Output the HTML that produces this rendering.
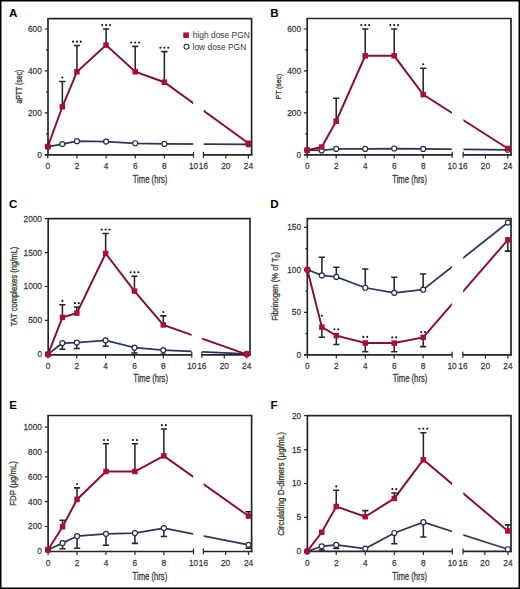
<!DOCTYPE html>
<html><head><meta charset="utf-8">
<style>
html,body{margin:0;padding:0;background:#fff;}
body{width:520px;height:589px;overflow:hidden;}
svg{display:block;}
text{font-family:"Liberation Sans", sans-serif;}
.t{font-size:9.9px;fill:#3a3a3a;stroke:#3a3a3a;stroke-width:0.25px;}
.xt{font-size:10.8px;fill:#3a3a3a;stroke:#3a3a3a;stroke-width:0.3px;}
.yt{fill:#3a3a3a;stroke:#3a3a3a;stroke-width:0.3px;}
.lg{font-size:8.4px;fill:#3a3a3a;}
.L{font-size:11.6px;font-weight:bold;fill:#000;}
</style></head>
<body>
<svg width="520" height="589" viewBox="0 0 520 589">
<rect x="0" y="0" width="520" height="589" fill="#fff"/>
<polyline points="47.8,146.62 62.37,144.11 76.94,141.17 106.08,141.59 135.22,143.27 164.36,143.9 248.4,144.31" fill="none" stroke="#27395a" stroke-width="1.75" stroke-linejoin="miter"/>
<polyline points="47.8,146.62 62.37,106.78 76.94,71.76 106.08,45.13 135.22,71.76 164.36,82.24 248.4,143.27" fill="none" stroke="#870e30" stroke-width="1.95" stroke-linejoin="miter"/>
<rect x="193.2" y="19.6" width="10.5" height="134.2" fill="#fff"/>
<path d="M48 154.8V18.6H251.6V155.6" fill="none" stroke="#262626" stroke-width="1.7"/>
<path d="M44.7 154.8H193.5M203.4 154.8H252.4" stroke="#262626" stroke-width="1.7" fill="none"/>
<path d="M193.5 151.8V157.8M203.4 151.8V157.8" stroke="#262626" stroke-width="1.2" fill="none"/>
<path d="M47.8 154.8V158.4M76.94 154.8V158.4M106.08 154.8V158.4M135.22 154.8V158.4M164.36 154.8V158.4M225.8 154.8V158.4M248.4 154.8V158.4" stroke="#262626" stroke-width="1.2" fill="none"/>
<path d="M44.7 112.86H48M44.7 70.92H48M44.7 28.98H48M46.1 133.83H48M46.1 91.89H48M46.1 49.95H48" stroke="#262626" stroke-width="1.2" fill="none"/>
<path d="M62.37 106.78V81.41M59.27 81.41H65.47" stroke="#262626" stroke-width="1.55" fill="none"/>
<path d="M76.94 71.76V45.55M73.84 45.55H80.04" stroke="#262626" stroke-width="1.55" fill="none"/>
<path d="M106.08 45.13V28.98M102.98 28.98H109.18" stroke="#262626" stroke-width="1.55" fill="none"/>
<path d="M135.22 71.76V46.39M132.12 46.39H138.32" stroke="#262626" stroke-width="1.55" fill="none"/>
<path d="M164.36 82.24V51.63M161.26 51.63H167.46" stroke="#262626" stroke-width="1.55" fill="none"/>
<circle cx="47.8" cy="146.62" r="2.5" fill="#fff" stroke="#252d42" stroke-width="1.2"/>
<circle cx="62.37" cy="144.11" r="2.5" fill="#fff" stroke="#252d42" stroke-width="1.2"/>
<circle cx="76.94" cy="141.17" r="2.5" fill="#fff" stroke="#252d42" stroke-width="1.2"/>
<circle cx="106.08" cy="141.59" r="2.5" fill="#fff" stroke="#252d42" stroke-width="1.2"/>
<circle cx="135.22" cy="143.27" r="2.5" fill="#fff" stroke="#252d42" stroke-width="1.2"/>
<circle cx="164.36" cy="143.9" r="2.5" fill="#fff" stroke="#252d42" stroke-width="1.2"/>
<circle cx="248.4" cy="144.31" r="2.5" fill="#fff" stroke="#252d42" stroke-width="1.2"/>
<rect x="45.05" y="143.87" width="5.5" height="5.5" fill="#ad0d33"/>
<rect x="59.62" y="104.03" width="5.5" height="5.5" fill="#ad0d33"/>
<rect x="74.19" y="69.01" width="5.5" height="5.5" fill="#ad0d33"/>
<rect x="103.33" y="42.38" width="5.5" height="5.5" fill="#ad0d33"/>
<rect x="132.47" y="69.01" width="5.5" height="5.5" fill="#ad0d33"/>
<rect x="161.61" y="79.49" width="5.5" height="5.5" fill="#ad0d33"/>
<rect x="245.65" y="140.52" width="5.5" height="5.5" fill="#ad0d33"/>
<circle cx="62.37" cy="77.51" r="1.05" fill="#151515"/>
<circle cx="73.04" cy="41.65" r="1.05" fill="#151515"/>
<circle cx="76.94" cy="41.65" r="1.05" fill="#151515"/>
<circle cx="80.84" cy="41.65" r="1.05" fill="#151515"/>
<circle cx="102.18" cy="25.08" r="1.05" fill="#151515"/>
<circle cx="106.08" cy="25.08" r="1.05" fill="#151515"/>
<circle cx="109.98" cy="25.08" r="1.05" fill="#151515"/>
<circle cx="131.32" cy="42.49" r="1.05" fill="#151515"/>
<circle cx="135.22" cy="42.49" r="1.05" fill="#151515"/>
<circle cx="139.12" cy="42.49" r="1.05" fill="#151515"/>
<circle cx="160.46" cy="47.73" r="1.05" fill="#151515"/>
<circle cx="164.36" cy="47.73" r="1.05" fill="#151515"/>
<circle cx="168.26" cy="47.73" r="1.05" fill="#151515"/>
<text transform="translate(41.8 157.7) scale(0.84 1)" text-anchor="end" class="t">0</text>
<text transform="translate(41.8 115.76) scale(0.84 1)" text-anchor="end" class="t">200</text>
<text transform="translate(41.8 73.82) scale(0.84 1)" text-anchor="end" class="t">400</text>
<text transform="translate(41.8 31.88) scale(0.84 1)" text-anchor="end" class="t">600</text>
<text transform="translate(47.8 169.1) scale(0.84 1)" text-anchor="middle" class="t">0</text>
<text transform="translate(76.94 169.1) scale(0.84 1)" text-anchor="middle" class="t">2</text>
<text transform="translate(106.08 169.1) scale(0.84 1)" text-anchor="middle" class="t">4</text>
<text transform="translate(135.22 169.1) scale(0.84 1)" text-anchor="middle" class="t">6</text>
<text transform="translate(164.36 169.1) scale(0.84 1)" text-anchor="middle" class="t">8</text>
<text transform="translate(193.5 169.1) scale(0.84 1)" text-anchor="middle" class="t">10</text>
<text transform="translate(203.4 169.1) scale(0.84 1)" text-anchor="middle" class="t">16</text>
<text transform="translate(225.8 169.1) scale(0.84 1)" text-anchor="middle" class="t">20</text>
<text transform="translate(248.4 169.1) scale(0.84 1)" text-anchor="middle" class="t">24</text>
<text x="150.05" y="182.6" text-anchor="middle" class="xt" textLength="34.7" lengthAdjust="spacingAndGlyphs">Time (hrs)</text>
<text transform="translate(21.5 86.6) rotate(-90)" text-anchor="middle" class="yt" style="font-size:8.2px" textLength="34" lengthAdjust="spacingAndGlyphs">aPTT (sec)</text>
<text x="8.9" y="16.8" class="L">A</text>
<polyline points="307.2,150.19 321.7,150.4 336.2,148.93 365.2,148.93 394.2,148.51 423.2,148.93 507.8,149.77" fill="none" stroke="#27395a" stroke-width="1.75" stroke-linejoin="miter"/>
<polyline points="307.2,150.19 321.7,147.04 336.2,121.25 365.2,55.82 394.2,55.82 423.2,94.62 507.8,148.51" fill="none" stroke="#870e30" stroke-width="1.95" stroke-linejoin="miter"/>
<rect x="451.9" y="19.5" width="11.5" height="134.3" fill="#fff"/>
<path d="M307.2 154.8V18.5H511V155.6" fill="none" stroke="#262626" stroke-width="1.7"/>
<path d="M303.9 154.8H452.2M463.1 154.8H511.8" stroke="#262626" stroke-width="1.7" fill="none"/>
<path d="M452.2 151.8V157.8M463.1 151.8V157.8" stroke="#262626" stroke-width="1.2" fill="none"/>
<path d="M307.2 154.8V158.4M336.2 154.8V158.4M365.2 154.8V158.4M394.2 154.8V158.4M423.2 154.8V158.4M485.4 154.8V158.4M507.8 154.8V158.4" stroke="#262626" stroke-width="1.2" fill="none"/>
<path d="M303.9 112.86H307.2M303.9 70.92H307.2M303.9 28.98H307.2M305.3 133.83H307.2M305.3 91.89H307.2M305.3 49.95H307.2" stroke="#262626" stroke-width="1.2" fill="none"/>
<path d="M336.2 121.25V98.18M333.1 98.18H339.3" stroke="#262626" stroke-width="1.55" fill="none"/>
<path d="M365.2 55.82V28.98M362.1 28.98H368.3" stroke="#262626" stroke-width="1.55" fill="none"/>
<path d="M394.2 55.82V28.98M391.1 28.98H397.3" stroke="#262626" stroke-width="1.55" fill="none"/>
<path d="M423.2 94.62V68.19M420.1 68.19H426.3" stroke="#262626" stroke-width="1.55" fill="none"/>
<circle cx="307.2" cy="150.19" r="2.5" fill="#fff" stroke="#252d42" stroke-width="1.2"/>
<circle cx="321.7" cy="150.4" r="2.5" fill="#fff" stroke="#252d42" stroke-width="1.2"/>
<circle cx="336.2" cy="148.93" r="2.5" fill="#fff" stroke="#252d42" stroke-width="1.2"/>
<circle cx="365.2" cy="148.93" r="2.5" fill="#fff" stroke="#252d42" stroke-width="1.2"/>
<circle cx="394.2" cy="148.51" r="2.5" fill="#fff" stroke="#252d42" stroke-width="1.2"/>
<circle cx="423.2" cy="148.93" r="2.5" fill="#fff" stroke="#252d42" stroke-width="1.2"/>
<circle cx="507.8" cy="149.77" r="2.5" fill="#fff" stroke="#252d42" stroke-width="1.2"/>
<rect x="304.45" y="147.44" width="5.5" height="5.5" fill="#ad0d33"/>
<rect x="318.95" y="144.29" width="5.5" height="5.5" fill="#ad0d33"/>
<rect x="333.45" y="118.5" width="5.5" height="5.5" fill="#ad0d33"/>
<rect x="362.45" y="53.07" width="5.5" height="5.5" fill="#ad0d33"/>
<rect x="391.45" y="53.07" width="5.5" height="5.5" fill="#ad0d33"/>
<rect x="420.45" y="91.87" width="5.5" height="5.5" fill="#ad0d33"/>
<rect x="505.05" y="145.76" width="5.5" height="5.5" fill="#ad0d33"/>
<circle cx="361.3" cy="25.08" r="1.05" fill="#151515"/>
<circle cx="365.2" cy="25.08" r="1.05" fill="#151515"/>
<circle cx="369.1" cy="25.08" r="1.05" fill="#151515"/>
<circle cx="390.3" cy="25.08" r="1.05" fill="#151515"/>
<circle cx="394.2" cy="25.08" r="1.05" fill="#151515"/>
<circle cx="398.1" cy="25.08" r="1.05" fill="#151515"/>
<circle cx="423.2" cy="64.29" r="1.05" fill="#151515"/>
<text transform="translate(301 157.7) scale(0.84 1)" text-anchor="end" class="t">0</text>
<text transform="translate(301 115.76) scale(0.84 1)" text-anchor="end" class="t">200</text>
<text transform="translate(301 73.82) scale(0.84 1)" text-anchor="end" class="t">400</text>
<text transform="translate(301 31.88) scale(0.84 1)" text-anchor="end" class="t">600</text>
<text transform="translate(307.2 169.1) scale(0.84 1)" text-anchor="middle" class="t">0</text>
<text transform="translate(336.2 169.1) scale(0.84 1)" text-anchor="middle" class="t">2</text>
<text transform="translate(365.2 169.1) scale(0.84 1)" text-anchor="middle" class="t">4</text>
<text transform="translate(394.2 169.1) scale(0.84 1)" text-anchor="middle" class="t">6</text>
<text transform="translate(423.2 169.1) scale(0.84 1)" text-anchor="middle" class="t">8</text>
<text transform="translate(452.2 169.1) scale(0.84 1)" text-anchor="middle" class="t">10</text>
<text transform="translate(463.1 169.1) scale(0.84 1)" text-anchor="middle" class="t">16</text>
<text transform="translate(485.4 169.1) scale(0.84 1)" text-anchor="middle" class="t">20</text>
<text transform="translate(507.8 169.1) scale(0.84 1)" text-anchor="middle" class="t">24</text>
<text x="409.6" y="182.6" text-anchor="middle" class="xt" textLength="34.7" lengthAdjust="spacingAndGlyphs">Time (hrs)</text>
<text transform="translate(280.5 86.6) rotate(-90)" text-anchor="middle" class="yt" style="font-size:7.9px" textLength="25.6" lengthAdjust="spacingAndGlyphs">PT (sec)</text>
<text x="270.3" y="16.6" class="L">B</text>
<polyline points="48,354.3 62.41,343.11 76.82,342.57 105.64,340.33 134.46,347.72 163.28,350.03 246.7,353.96" fill="none" stroke="#27395a" stroke-width="1.75" stroke-linejoin="miter"/>
<polyline points="48,354.3 62.41,317.42 76.82,313.08 105.64,253.48 134.46,291.11 163.28,324.87 246.7,354.3" fill="none" stroke="#870e30" stroke-width="1.95" stroke-linejoin="miter"/>
<rect x="191.5" y="219.65" width="10.6" height="134.15" fill="#fff"/>
<path d="M48.2 354.8V218.65H250V355.6" fill="none" stroke="#262626" stroke-width="1.7"/>
<path d="M44.9 354.8H191.8M201.8 354.8H250.8" stroke="#262626" stroke-width="1.7" fill="none"/>
<path d="M191.8 351.8V357.8M201.8 351.8V357.8" stroke="#262626" stroke-width="1.2" fill="none"/>
<path d="M48 354.8V358.4M76.82 354.8V358.4M105.64 354.8V358.4M134.46 354.8V358.4M163.28 354.8V358.4M224.3 354.8V358.4M246.7 354.8V358.4" stroke="#262626" stroke-width="1.2" fill="none"/>
<path d="M44.9 320.4H48.2M44.9 286.5H48.2M44.9 252.6H48.2M44.9 218.7H48.2" stroke="#262626" stroke-width="1.2" fill="none"/>
<path d="M62.41 343.11V349.28M59.31 349.28H65.51" stroke="#262626" stroke-width="1.55" fill="none"/>
<path d="M76.82 342.57V348.54M73.72 348.54H79.92" stroke="#262626" stroke-width="1.55" fill="none"/>
<path d="M105.64 340.33V346.23M102.54 346.23H108.74" stroke="#262626" stroke-width="1.55" fill="none"/>
<path d="M134.46 347.72V352.94M131.36 352.94H137.56" stroke="#262626" stroke-width="1.55" fill="none"/>
<path d="M163.28 350.03V354.3M160.18 354.3H166.38" stroke="#262626" stroke-width="1.55" fill="none"/>
<path d="M62.41 317.42V304.81M59.31 304.81H65.51" stroke="#262626" stroke-width="1.55" fill="none"/>
<path d="M76.82 313.08V307.04M73.72 307.04H79.92" stroke="#262626" stroke-width="1.55" fill="none"/>
<path d="M105.64 253.48V233.41M102.54 233.41H108.74" stroke="#262626" stroke-width="1.55" fill="none"/>
<path d="M134.46 291.11V276.19M131.36 276.19H137.56" stroke="#262626" stroke-width="1.55" fill="none"/>
<path d="M163.28 324.87V315.86M160.18 315.86H166.38" stroke="#262626" stroke-width="1.55" fill="none"/>
<circle cx="48" cy="354.3" r="2.5" fill="#fff" stroke="#252d42" stroke-width="1.2"/>
<circle cx="62.41" cy="343.11" r="2.5" fill="#fff" stroke="#252d42" stroke-width="1.2"/>
<circle cx="76.82" cy="342.57" r="2.5" fill="#fff" stroke="#252d42" stroke-width="1.2"/>
<circle cx="105.64" cy="340.33" r="2.5" fill="#fff" stroke="#252d42" stroke-width="1.2"/>
<circle cx="134.46" cy="347.72" r="2.5" fill="#fff" stroke="#252d42" stroke-width="1.2"/>
<circle cx="163.28" cy="350.03" r="2.5" fill="#fff" stroke="#252d42" stroke-width="1.2"/>
<circle cx="246.7" cy="353.96" r="2.5" fill="#fff" stroke="#252d42" stroke-width="1.2"/>
<rect x="45.25" y="351.55" width="5.5" height="5.5" fill="#ad0d33"/>
<rect x="59.66" y="314.67" width="5.5" height="5.5" fill="#ad0d33"/>
<rect x="74.07" y="310.33" width="5.5" height="5.5" fill="#ad0d33"/>
<rect x="102.89" y="250.73" width="5.5" height="5.5" fill="#ad0d33"/>
<rect x="131.71" y="288.36" width="5.5" height="5.5" fill="#ad0d33"/>
<rect x="160.53" y="322.12" width="5.5" height="5.5" fill="#ad0d33"/>
<circle cx="246.7" cy="354.3" r="3.2" fill="#ad0d33"/>
<circle cx="62.41" cy="300.91" r="1.05" fill="#151515"/>
<circle cx="74.87" cy="303.14" r="1.05" fill="#151515"/>
<circle cx="78.77" cy="303.14" r="1.05" fill="#151515"/>
<circle cx="101.74" cy="229.51" r="1.05" fill="#151515"/>
<circle cx="105.64" cy="229.51" r="1.05" fill="#151515"/>
<circle cx="109.54" cy="229.51" r="1.05" fill="#151515"/>
<circle cx="130.56" cy="272.29" r="1.05" fill="#151515"/>
<circle cx="134.46" cy="272.29" r="1.05" fill="#151515"/>
<circle cx="138.36" cy="272.29" r="1.05" fill="#151515"/>
<circle cx="163.28" cy="311.96" r="1.05" fill="#151515"/>
<text transform="translate(42 357.2) scale(0.84 1)" text-anchor="end" class="t">0</text>
<text transform="translate(42 323.3) scale(0.84 1)" text-anchor="end" class="t">500</text>
<text transform="translate(42 289.4) scale(0.84 1)" text-anchor="end" class="t">1000</text>
<text transform="translate(42 255.5) scale(0.84 1)" text-anchor="end" class="t">1500</text>
<text transform="translate(42 221.6) scale(0.84 1)" text-anchor="end" class="t">2000</text>
<text transform="translate(48 369.1) scale(0.84 1)" text-anchor="middle" class="t">0</text>
<text transform="translate(76.82 369.1) scale(0.84 1)" text-anchor="middle" class="t">2</text>
<text transform="translate(105.64 369.1) scale(0.84 1)" text-anchor="middle" class="t">4</text>
<text transform="translate(134.46 369.1) scale(0.84 1)" text-anchor="middle" class="t">6</text>
<text transform="translate(163.28 369.1) scale(0.84 1)" text-anchor="middle" class="t">8</text>
<text transform="translate(191.8 369.1) scale(0.84 1)" text-anchor="middle" class="t">10</text>
<text transform="translate(201.8 369.1) scale(0.84 1)" text-anchor="middle" class="t">16</text>
<text transform="translate(224.3 369.1) scale(0.84 1)" text-anchor="middle" class="t">20</text>
<text transform="translate(246.7 369.1) scale(0.84 1)" text-anchor="middle" class="t">24</text>
<text x="150.6" y="382" text-anchor="middle" class="xt" textLength="34.7" lengthAdjust="spacingAndGlyphs">Time (hrs)</text>
<text transform="translate(16.6 286.55) rotate(-90)" text-anchor="middle" class="yt" style="font-size:8.2px" textLength="79.9" lengthAdjust="spacingAndGlyphs">TAT complexes (ng/mL)</text>
<text x="8.9" y="208.1" class="L">C</text>
<polyline points="307.4,269.8 321.87,275.41 336.34,276.94 365.28,287.74 394.22,292.84 423.16,289.69 507.9,222.54" fill="none" stroke="#27395a" stroke-width="1.75" stroke-linejoin="miter"/>
<polyline points="307.4,269.8 321.87,327.18 336.34,335.59 365.28,342.99 394.22,343.07 423.16,337.38 507.9,239.8" fill="none" stroke="#870e30" stroke-width="1.95" stroke-linejoin="miter"/>
<rect x="451.8" y="219.6" width="11.4" height="134.2" fill="#fff"/>
<path d="M307.3 354.8V218.6H511V355.6" fill="none" stroke="#262626" stroke-width="1.7"/>
<path d="M304 354.8H452.1M462.9 354.8H511.8" stroke="#262626" stroke-width="1.7" fill="none"/>
<path d="M452.1 351.8V357.8M462.9 351.8V357.8" stroke="#262626" stroke-width="1.2" fill="none"/>
<path d="M307.4 354.8V358.4M336.34 354.8V358.4M365.28 354.8V358.4M394.22 354.8V358.4M423.16 354.8V358.4M485.4 354.8V358.4M507.9 354.8V358.4" stroke="#262626" stroke-width="1.2" fill="none"/>
<path d="M304 312.3H307.3M304 269.8H307.3M304 227.3H307.3M305.4 333.55H307.3M305.4 291.05H307.3M305.4 248.55H307.3" stroke="#262626" stroke-width="1.2" fill="none"/>
<path d="M321.87 275.41V257.22M318.77 257.22H324.97" stroke="#262626" stroke-width="1.55" fill="none"/>
<path d="M336.34 276.94V267.25M333.24 267.25H339.44" stroke="#262626" stroke-width="1.55" fill="none"/>
<path d="M365.28 287.74V269.04M362.18 269.04H368.38" stroke="#262626" stroke-width="1.55" fill="none"/>
<path d="M394.22 292.84V277.2M391.12 277.2H397.32" stroke="#262626" stroke-width="1.55" fill="none"/>
<path d="M423.16 289.69V274.05M420.06 274.05H426.26" stroke="#262626" stroke-width="1.55" fill="none"/>
<path d="M321.87 327.18V337.21M318.77 337.21H324.97" stroke="#262626" stroke-width="1.55" fill="none"/>
<path d="M336.34 335.59V344.43M333.24 344.43H339.44" stroke="#262626" stroke-width="1.55" fill="none"/>
<path d="M365.28 342.99V351.82M362.18 351.82H368.38" stroke="#262626" stroke-width="1.55" fill="none"/>
<path d="M394.22 343.07V351.82M391.12 351.82H397.32" stroke="#262626" stroke-width="1.55" fill="none"/>
<path d="M423.16 337.38V346.64M420.06 346.64H426.26" stroke="#262626" stroke-width="1.55" fill="none"/>
<path d="M507.9 239.8V251.1M504.8 251.1H511" stroke="#262626" stroke-width="1.55" fill="none"/>
<circle cx="307.4" cy="269.8" r="2.5" fill="#fff" stroke="#252d42" stroke-width="1.2"/>
<circle cx="321.87" cy="275.41" r="2.5" fill="#fff" stroke="#252d42" stroke-width="1.2"/>
<circle cx="336.34" cy="276.94" r="2.5" fill="#fff" stroke="#252d42" stroke-width="1.2"/>
<circle cx="365.28" cy="287.74" r="2.5" fill="#fff" stroke="#252d42" stroke-width="1.2"/>
<circle cx="394.22" cy="292.84" r="2.5" fill="#fff" stroke="#252d42" stroke-width="1.2"/>
<circle cx="423.16" cy="289.69" r="2.5" fill="#fff" stroke="#252d42" stroke-width="1.2"/>
<circle cx="507.9" cy="222.54" r="2.5" fill="#fff" stroke="#252d42" stroke-width="1.2"/>
<circle cx="307.4" cy="269.8" r="3.2" fill="#ad0d33"/>
<rect x="319.12" y="324.43" width="5.5" height="5.5" fill="#ad0d33"/>
<rect x="333.59" y="332.84" width="5.5" height="5.5" fill="#ad0d33"/>
<rect x="362.53" y="340.24" width="5.5" height="5.5" fill="#ad0d33"/>
<rect x="391.47" y="340.32" width="5.5" height="5.5" fill="#ad0d33"/>
<rect x="420.41" y="334.62" width="5.5" height="5.5" fill="#ad0d33"/>
<rect x="505.15" y="237.05" width="5.5" height="5.5" fill="#ad0d33"/>
<circle cx="321.87" cy="315.8" r="1.05" fill="#151515"/>
<circle cx="334.39" cy="329.2" r="1.05" fill="#151515"/>
<circle cx="338.29" cy="329.2" r="1.05" fill="#151515"/>
<circle cx="363.33" cy="336.9" r="1.05" fill="#151515"/>
<circle cx="367.23" cy="336.9" r="1.05" fill="#151515"/>
<circle cx="392.27" cy="337.4" r="1.05" fill="#151515"/>
<circle cx="396.17" cy="337.4" r="1.05" fill="#151515"/>
<circle cx="421.21" cy="332" r="1.05" fill="#151515"/>
<circle cx="425.11" cy="332" r="1.05" fill="#151515"/>
<text transform="translate(301.1 357.7) scale(0.84 1)" text-anchor="end" class="t">0</text>
<text transform="translate(301.1 315.2) scale(0.84 1)" text-anchor="end" class="t">50</text>
<text transform="translate(301.1 272.7) scale(0.84 1)" text-anchor="end" class="t">100</text>
<text transform="translate(301.1 230.2) scale(0.84 1)" text-anchor="end" class="t">150</text>
<text transform="translate(307.4 369.1) scale(0.84 1)" text-anchor="middle" class="t">0</text>
<text transform="translate(336.34 369.1) scale(0.84 1)" text-anchor="middle" class="t">2</text>
<text transform="translate(365.28 369.1) scale(0.84 1)" text-anchor="middle" class="t">4</text>
<text transform="translate(394.22 369.1) scale(0.84 1)" text-anchor="middle" class="t">6</text>
<text transform="translate(423.16 369.1) scale(0.84 1)" text-anchor="middle" class="t">8</text>
<text transform="translate(452.1 369.1) scale(0.84 1)" text-anchor="middle" class="t">10</text>
<text transform="translate(462.9 369.1) scale(0.84 1)" text-anchor="middle" class="t">16</text>
<text transform="translate(485.4 369.1) scale(0.84 1)" text-anchor="middle" class="t">20</text>
<text transform="translate(507.9 369.1) scale(0.84 1)" text-anchor="middle" class="t">24</text>
<text x="410" y="382" text-anchor="middle" class="xt" textLength="34.7" lengthAdjust="spacingAndGlyphs">Time (hrs)</text>
<text transform="translate(277.9 286.4) rotate(-90)" text-anchor="middle" class="yt" style="font-size:9.2px" textLength="68.8" lengthAdjust="spacingAndGlyphs">Fibrinogen (% of T<tspan font-size="6.5" dy="1.6">0</tspan><tspan dy="-1.6">)</tspan></text>
<text x="270.2" y="208.4" class="L">D</text>
<polyline points="48.1,549.69 62.57,543.11 77.04,536.04 105.98,533.8 134.92,533.06 163.86,528.09 248.5,544.85" fill="none" stroke="#27395a" stroke-width="1.75" stroke-linejoin="miter"/>
<polyline points="48.1,549.69 62.57,526.73 77.04,499.43 105.98,471.5 134.92,471.5 163.86,455.87 248.5,516.06" fill="none" stroke="#870e30" stroke-width="1.95" stroke-linejoin="miter"/>
<rect x="193.2" y="416.5" width="10.5" height="134" fill="#fff"/>
<path d="M48.1 551.5V415.5H251.6V552.3" fill="none" stroke="#262626" stroke-width="1.7"/>
<path d="M44.8 551.5H193.5M203.4 551.5H252.4" stroke="#262626" stroke-width="1.7" fill="none"/>
<path d="M193.5 548.5V554.5M203.4 548.5V554.5" stroke="#262626" stroke-width="1.2" fill="none"/>
<path d="M48.1 551.5V555.1M77.04 551.5V555.1M105.98 551.5V555.1M134.92 551.5V555.1M163.86 551.5V555.1M225.6 551.5V555.1M248.5 551.5V555.1" stroke="#262626" stroke-width="1.2" fill="none"/>
<path d="M44.8 526.48H48.1M44.8 501.66H48.1M44.8 476.84H48.1M44.8 452.02H48.1M44.8 427.2H48.1" stroke="#262626" stroke-width="1.2" fill="none"/>
<path d="M62.57 543.11V548.69M59.47 548.69H65.67" stroke="#262626" stroke-width="1.55" fill="none"/>
<path d="M77.04 536.04V548.2M73.94 548.2H80.14" stroke="#262626" stroke-width="1.55" fill="none"/>
<path d="M105.98 533.8V545.34M102.88 545.34H109.08" stroke="#262626" stroke-width="1.55" fill="none"/>
<path d="M134.92 533.06V543.36M131.82 543.36H138.02" stroke="#262626" stroke-width="1.55" fill="none"/>
<path d="M163.86 528.09V536.41M160.76 536.41H166.96" stroke="#262626" stroke-width="1.55" fill="none"/>
<path d="M248.5 544.85V548.2M245.4 548.2H251.6" stroke="#262626" stroke-width="1.55" fill="none"/>
<path d="M62.57 526.73V520.27M59.47 520.27H65.67" stroke="#262626" stroke-width="1.55" fill="none"/>
<path d="M77.04 499.43V487.88M73.94 487.88H80.14" stroke="#262626" stroke-width="1.55" fill="none"/>
<path d="M105.98 471.5V443.83M102.88 443.83H109.08" stroke="#262626" stroke-width="1.55" fill="none"/>
<path d="M134.92 471.5V443.83M131.82 443.83H138.02" stroke="#262626" stroke-width="1.55" fill="none"/>
<path d="M163.86 455.87V429.06M160.76 429.06H166.96" stroke="#262626" stroke-width="1.55" fill="none"/>
<path d="M248.5 516.06V511.71M245.4 511.71H251.6" stroke="#262626" stroke-width="1.55" fill="none"/>
<circle cx="48.1" cy="549.69" r="2.5" fill="#fff" stroke="#252d42" stroke-width="1.2"/>
<circle cx="62.57" cy="543.11" r="2.5" fill="#fff" stroke="#252d42" stroke-width="1.2"/>
<circle cx="77.04" cy="536.04" r="2.5" fill="#fff" stroke="#252d42" stroke-width="1.2"/>
<circle cx="105.98" cy="533.8" r="2.5" fill="#fff" stroke="#252d42" stroke-width="1.2"/>
<circle cx="134.92" cy="533.06" r="2.5" fill="#fff" stroke="#252d42" stroke-width="1.2"/>
<circle cx="163.86" cy="528.09" r="2.5" fill="#fff" stroke="#252d42" stroke-width="1.2"/>
<circle cx="248.5" cy="544.85" r="2.5" fill="#fff" stroke="#252d42" stroke-width="1.2"/>
<rect x="45.35" y="546.94" width="5.5" height="5.5" fill="#ad0d33"/>
<rect x="59.82" y="523.98" width="5.5" height="5.5" fill="#ad0d33"/>
<rect x="74.29" y="496.68" width="5.5" height="5.5" fill="#ad0d33"/>
<rect x="103.23" y="468.75" width="5.5" height="5.5" fill="#ad0d33"/>
<rect x="132.17" y="468.75" width="5.5" height="5.5" fill="#ad0d33"/>
<rect x="161.11" y="453.12" width="5.5" height="5.5" fill="#ad0d33"/>
<rect x="245.75" y="513.31" width="5.5" height="5.5" fill="#ad0d33"/>
<circle cx="77.04" cy="483.98" r="1.05" fill="#151515"/>
<circle cx="104.03" cy="439.93" r="1.05" fill="#151515"/>
<circle cx="107.93" cy="439.93" r="1.05" fill="#151515"/>
<circle cx="132.97" cy="439.93" r="1.05" fill="#151515"/>
<circle cx="136.87" cy="439.93" r="1.05" fill="#151515"/>
<circle cx="161.91" cy="425.16" r="1.05" fill="#151515"/>
<circle cx="165.81" cy="425.16" r="1.05" fill="#151515"/>
<text transform="translate(41.9 554.2) scale(0.84 1)" text-anchor="end" class="t">0</text>
<text transform="translate(41.9 529.38) scale(0.84 1)" text-anchor="end" class="t">200</text>
<text transform="translate(41.9 504.56) scale(0.84 1)" text-anchor="end" class="t">400</text>
<text transform="translate(41.9 479.74) scale(0.84 1)" text-anchor="end" class="t">600</text>
<text transform="translate(41.9 454.92) scale(0.84 1)" text-anchor="end" class="t">800</text>
<text transform="translate(41.9 430.1) scale(0.84 1)" text-anchor="end" class="t">1000</text>
<text transform="translate(48.1 565.8) scale(0.84 1)" text-anchor="middle" class="t">0</text>
<text transform="translate(77.04 565.8) scale(0.84 1)" text-anchor="middle" class="t">2</text>
<text transform="translate(105.98 565.8) scale(0.84 1)" text-anchor="middle" class="t">4</text>
<text transform="translate(134.92 565.8) scale(0.84 1)" text-anchor="middle" class="t">6</text>
<text transform="translate(163.86 565.8) scale(0.84 1)" text-anchor="middle" class="t">8</text>
<text transform="translate(193.5 565.8) scale(0.84 1)" text-anchor="middle" class="t">10</text>
<text transform="translate(203.4 565.8) scale(0.84 1)" text-anchor="middle" class="t">16</text>
<text transform="translate(225.6 565.8) scale(0.84 1)" text-anchor="middle" class="t">20</text>
<text transform="translate(248.5 565.8) scale(0.84 1)" text-anchor="middle" class="t">24</text>
<text x="149.9" y="579.5" text-anchor="middle" class="xt" textLength="34.7" lengthAdjust="spacingAndGlyphs">Time (hrs)</text>
<text transform="translate(15.8 483.4) rotate(-90)" text-anchor="middle" class="yt" style="font-size:8.2px" textLength="44.6" lengthAdjust="spacingAndGlyphs">FDP (μg/mL)</text>
<text x="9.3" y="408.6" class="L">E</text>
<polyline points="307.2,551.3 321.72,546.28 336.24,544.93 365.28,548.59 394.32,532.99 423.36,522.15 507.9,549.27" fill="none" stroke="#27395a" stroke-width="1.75" stroke-linejoin="miter"/>
<polyline points="307.2,551.3 321.72,532.32 336.24,506.55 365.28,516.72 394.32,498.42 423.36,459.77 507.9,530.96" fill="none" stroke="#870e30" stroke-width="1.95" stroke-linejoin="miter"/>
<rect x="452" y="416.65" width="11.3" height="133.75" fill="#fff"/>
<path d="M307.4 551.4V415.65H511V552.2" fill="none" stroke="#262626" stroke-width="1.7"/>
<path d="M304.1 551.4H452.3M463 551.4H511.8" stroke="#262626" stroke-width="1.7" fill="none"/>
<path d="M452.3 548.4V554.4M463 548.4V554.4" stroke="#262626" stroke-width="1.2" fill="none"/>
<path d="M307.2 551.4V555M336.24 551.4V555M365.28 551.4V555M394.32 551.4V555M423.36 551.4V555M484.9 551.4V555M507.9 551.4V555" stroke="#262626" stroke-width="1.2" fill="none"/>
<path d="M304.1 517.4H307.4M304.1 483.5H307.4M304.1 449.6H307.4M304.1 415.7H307.4" stroke="#262626" stroke-width="1.2" fill="none"/>
<path d="M321.72 546.28V549.94M318.62 549.94H324.82" stroke="#262626" stroke-width="1.55" fill="none"/>
<path d="M336.24 544.93V548.59M333.14 548.59H339.34" stroke="#262626" stroke-width="1.55" fill="none"/>
<path d="M394.32 532.99V543.84M391.22 543.84H397.42" stroke="#262626" stroke-width="1.55" fill="none"/>
<path d="M423.36 522.15V537.06M420.26 537.06H426.46" stroke="#262626" stroke-width="1.55" fill="none"/>
<path d="M336.24 506.55V490.28M333.14 490.28H339.34" stroke="#262626" stroke-width="1.55" fill="none"/>
<path d="M365.28 516.72V510.62M362.18 510.62H368.38" stroke="#262626" stroke-width="1.55" fill="none"/>
<path d="M394.32 498.42V492.99M391.22 492.99H397.42" stroke="#262626" stroke-width="1.55" fill="none"/>
<path d="M423.36 459.77V432.65M420.26 432.65H426.46" stroke="#262626" stroke-width="1.55" fill="none"/>
<path d="M507.9 530.96V524.86M504.8 524.86H511" stroke="#262626" stroke-width="1.55" fill="none"/>
<circle cx="307.2" cy="551.3" r="2.5" fill="#fff" stroke="#252d42" stroke-width="1.2"/>
<circle cx="321.72" cy="546.28" r="2.5" fill="#fff" stroke="#252d42" stroke-width="1.2"/>
<circle cx="336.24" cy="544.93" r="2.5" fill="#fff" stroke="#252d42" stroke-width="1.2"/>
<circle cx="365.28" cy="548.59" r="2.5" fill="#fff" stroke="#252d42" stroke-width="1.2"/>
<circle cx="394.32" cy="532.99" r="2.5" fill="#fff" stroke="#252d42" stroke-width="1.2"/>
<circle cx="423.36" cy="522.15" r="2.5" fill="#fff" stroke="#252d42" stroke-width="1.2"/>
<circle cx="507.9" cy="549.27" r="2.5" fill="#fff" stroke="#252d42" stroke-width="1.2"/>
<rect x="304.45" y="548.55" width="5.5" height="5.5" fill="#ad0d33"/>
<rect x="318.97" y="529.57" width="5.5" height="5.5" fill="#ad0d33"/>
<rect x="333.49" y="503.8" width="5.5" height="5.5" fill="#ad0d33"/>
<rect x="362.53" y="513.97" width="5.5" height="5.5" fill="#ad0d33"/>
<rect x="391.57" y="495.67" width="5.5" height="5.5" fill="#ad0d33"/>
<rect x="420.61" y="457.02" width="5.5" height="5.5" fill="#ad0d33"/>
<rect x="505.15" y="528.21" width="5.5" height="5.5" fill="#ad0d33"/>
<circle cx="336.24" cy="486.38" r="1.05" fill="#151515"/>
<circle cx="392.37" cy="489.09" r="1.05" fill="#151515"/>
<circle cx="396.27" cy="489.09" r="1.05" fill="#151515"/>
<circle cx="419.46" cy="428.75" r="1.05" fill="#151515"/>
<circle cx="423.36" cy="428.75" r="1.05" fill="#151515"/>
<circle cx="427.26" cy="428.75" r="1.05" fill="#151515"/>
<text transform="translate(301.2 554.2) scale(0.84 1)" text-anchor="end" class="t">0</text>
<text transform="translate(301.2 520.3) scale(0.84 1)" text-anchor="end" class="t">5</text>
<text transform="translate(301.2 486.4) scale(0.84 1)" text-anchor="end" class="t">10</text>
<text transform="translate(301.2 452.5) scale(0.84 1)" text-anchor="end" class="t">15</text>
<text transform="translate(301.2 418.6) scale(0.84 1)" text-anchor="end" class="t">20</text>
<text transform="translate(307.2 565.7) scale(0.84 1)" text-anchor="middle" class="t">0</text>
<text transform="translate(336.24 565.7) scale(0.84 1)" text-anchor="middle" class="t">2</text>
<text transform="translate(365.28 565.7) scale(0.84 1)" text-anchor="middle" class="t">4</text>
<text transform="translate(394.32 565.7) scale(0.84 1)" text-anchor="middle" class="t">6</text>
<text transform="translate(423.36 565.7) scale(0.84 1)" text-anchor="middle" class="t">8</text>
<text transform="translate(452.3 565.7) scale(0.84 1)" text-anchor="middle" class="t">10</text>
<text transform="translate(463 565.7) scale(0.84 1)" text-anchor="middle" class="t">16</text>
<text transform="translate(484.9 565.7) scale(0.84 1)" text-anchor="middle" class="t">20</text>
<text transform="translate(507.9 565.7) scale(0.84 1)" text-anchor="middle" class="t">24</text>
<text x="409.7" y="579.8" text-anchor="middle" class="xt" textLength="34.7" lengthAdjust="spacingAndGlyphs">Time (hrs)</text>
<text transform="translate(284.4 484) rotate(-90)" text-anchor="middle" class="yt" style="font-size:8.5px" textLength="103.7" lengthAdjust="spacingAndGlyphs">Circulating D-dimers (μg/mL)</text>
<text x="270.6" y="408.6" class="L">F</text>

<rect x="183.3" y="32.4" width="5.6" height="5.6" fill="#ad0d33"/>
<text x="192.8" y="38.2" class="lg" textLength="57" lengthAdjust="spacingAndGlyphs">high dose PGN</text>
<circle cx="186.5" cy="46.8" r="2.5" fill="#fff" stroke="#252d42" stroke-width="1.1"/>
<text x="192.6" y="49.7" class="lg" textLength="53.6" lengthAdjust="spacingAndGlyphs">low dose PGN</text>

<path d="M0.75 0V589M0 0.75H520" stroke="#000" stroke-width="1.5"/>
<path d="M519.25 0V589M0 588.25H520" stroke="#000" stroke-width="1.5"/>
</svg>
</body></html>
